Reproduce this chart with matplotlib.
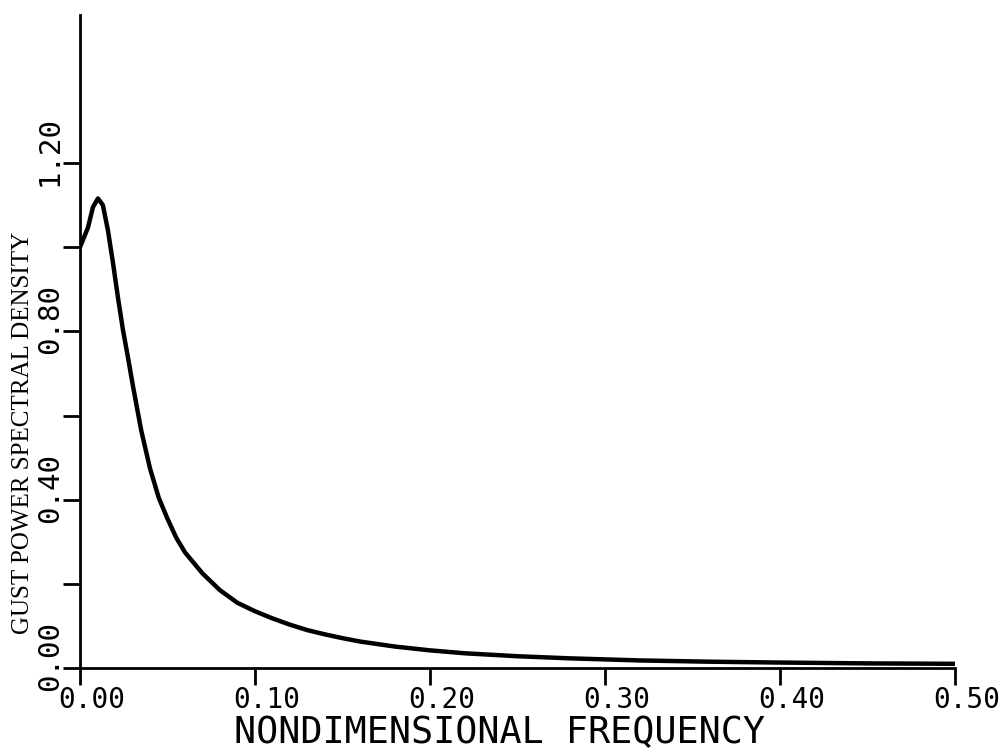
import numpy as np
import matplotlib.pyplot as plt
from matplotlib.transforms import ScaledTranslation


# спектральная плотность порывов
freq = [0.0, 0.0046, 0.0074, 0.0103, 0.0131, 0.016, 0.0189, 0.0217, 0.0246,
        0.0274, 0.0303, 0.035, 0.04, 0.045, 0.05, 0.055, 0.06, 0.07, 0.08,
        0.09, 0.10, 0.11, 0.12, 0.13, 0.14, 0.15, 0.16, 0.18, 0.20, 0.22,
        0.25, 0.28, 0.32, 0.36, 0.40, 0.45, 0.50]
psd = [1.0, 1.047, 1.095, 1.116, 1.10, 1.04, 0.962, 0.881, 0.803,
       0.739, 0.67, 0.565, 0.475, 0.405, 0.355, 0.31, 0.275, 0.225, 0.185,
       0.155, 0.135, 0.118, 0.103, 0.09, 0.08, 0.071, 0.063, 0.051, 0.042, 0.035,
       0.028, 0.023, 0.018, 0.015, 0.013, 0.011, 0.010]

x_ticks = [0.0, 0.1, 0.2, 0.3, 0.4, 0.5]
x_labels = ['0.00', '0.10', '0.20', '0.30', '0.40', '0.50']
y_ticks = [0.0, 0.2, 0.4, 0.6, 0.8, 1.0, 1.2]
y_labels = ['0.00', '', '0.40', '', '0.80', '', '1.20']

fig = plt.figure(figsize=(10.02, 7.51), dpi=100)
ax = fig.add_axes([0.0798, 0.1105, 0.873, 0.869])

ax.plot(freq, psd, color='black', lw=3.2, solid_capstyle='round',
        solid_joinstyle='round')

ax.set_xlim(0, 0.5)
ax.set_ylim(0, 1.551)

for s in ['top', 'right']:
    ax.spines[s].set_visible(False)
for s in ['left', 'bottom']:
    ax.spines[s].set_linewidth(2.0)

mono = 'DejaVu Sans Mono'
ax.set_xticks(x_ticks)
ax.set_xticklabels(x_labels, family=mono, fontsize=20)
ax.set_yticks(y_ticks)
ax.set_yticklabels(y_labels, family=mono, fontsize=21, rotation=90, va='center')
ax.tick_params(axis='both', direction='out', length=12, width=2.0, pad=1)

# подписи немного смещены относительно рисок
dx = ScaledTranslation(12 / 100, 0, fig.dpi_scale_trans)
for lab in ax.get_xticklabels():
    lab.set_transform(lab.get_transform() + dx)
dy = ScaledTranslation(2 / 100, 12 / 100, fig.dpi_scale_trans)
for lab in ax.get_yticklabels():
    lab.set_transform(lab.get_transform() + dy)

ax.set_xlabel('NONDIMENSIONAL FREQUENCY', family=mono, fontsize=26.5)
ax.xaxis.set_label_coords(0.48, -0.071)
ax.set_ylabel('GUST POWER SPECTRAL DENSITY', family='Liberation Serif', fontsize=18)
ax.yaxis.set_label_coords(-0.052, 0.361)

plt.savefig('out.png', dpi=100)
